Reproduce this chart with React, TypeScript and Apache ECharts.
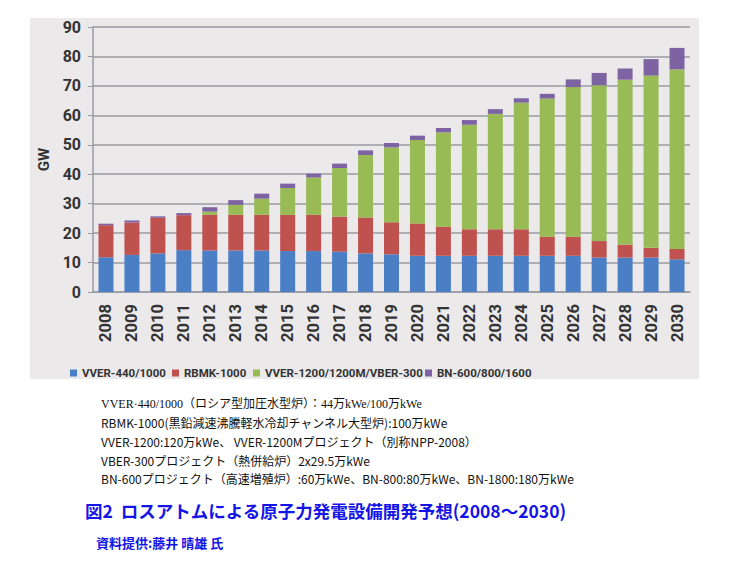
import React, { useEffect, useRef } from "react";
import * as echarts from "echarts";

const years = ["2008","2009","2010","2011","2012","2013","2014","2015","2016","2017","2018","2019","2020","2021","2022","2023","2024","2025","2026","2027","2028","2029","2030"];
const vver440 = [11.8,12.6,13.1,14.2,14.1,14.1,14.1,13.9,13.9,13.7,13.1,12.8,12.3,12.3,12.3,12.3,12.3,12.3,12.3,11.7,11.7,11.7,11.1];
const rbmk = [10.9,11.0,12.1,11.9,12.1,12.1,12.1,12.3,12.3,11.9,12.2,10.9,11.0,9.9,9.0,9.0,9.0,6.5,6.5,5.6,4.4,3.3,3.5];
const vver1200 = [0,0,0,0,1.1,3.4,5.5,9.1,12.7,16.5,21.2,25.4,28.3,32.0,35.5,39.2,43.0,46.9,50.8,52.9,56.0,58.5,61.0];
const bn = [0.5,0.7,0.5,0.7,1.5,1.6,1.7,1.5,1.3,1.5,1.6,1.5,1.5,1.5,1.6,1.6,1.5,1.6,2.6,4.2,3.8,5.6,7.3];
const seriesNames = ["VVER-440/1000","RBMK-1000","VVER-1200/1200M/VBER-300","BN-600/800/1600"];
const noteLines = [
  "VVER·440/1000（ロシア型加圧水型炉）：44万kWe/100万kWe",
  "RBMK-1000(黒鉛減速沸騰軽水冷却チャンネル大型炉):100万kWe",
  "VVER-1200:120万kWe、 VVER-1200Mプロジェクト（別称NPP-2008）",
  "VBER-300プロジェクト（熱併給炉）2x29.5万kWe",
  "BN-600プロジェクト（高速増殖炉）:60万kWe、BN-800:80万kWe、BN-1800:180万kWe",
];
const titleText = "図2  ロスアトムによる原子力発電設備開発予想(2008～2030)";
const creditText = "資料提供:藤井 晴雄 氏";

const colors = ["#4a7fc6", "#bf524f", "#98bb55", "#7e63a3"];

export default function App() {
  const ref = useRef<HTMLDivElement>(null);
  useEffect(() => {
    if (!ref.current) return;
    const chart = echarts.init(ref.current, undefined, { renderer: "svg" });
    const data = [vver440, rbmk, vver1200, bn];
    const legendLefts = [65, 167, 248, 420];
    const font = "Roboto, 'Open Sans', sans-serif";
    chart.setOption({
      animation: false,
      backgroundColor: "#ffffff",
      grid: { left: 93, right: 40, top: 27, bottom: 279, containLabel: false },
      legend: seriesNames.map((n, i) => ({
        data: [n],
        left: legendLefts[i],
        top: 362,
        itemWidth: 7,
        itemHeight: 7,
        itemGap: 4,
        icon: "rect",
        textStyle: { fontFamily: font, fontWeight: "bold", fontSize: 11.5, color: "#333" },
      })),
      xAxis: {
        type: "category",
        data: years,
        axisLine: { lineStyle: { color: "#9a9aa2", width: 1.5 } },
        axisTick: { show: false },
        axisLabel: { rotate: 90, fontFamily: font, fontWeight: "bold", fontSize: 16.5, color: "#333", margin: 12 },
      },
      yAxis: {
        type: "value",
        min: 0,
        max: 90,
        interval: 10,
        name: "GW",
        nameLocation: "middle",
        nameRotate: 90,
        nameGap: 38,
        nameTextStyle: { fontFamily: font, fontWeight: "bold", fontSize: 15, color: "#333" },
        axisLine: { show: true, lineStyle: { color: "#9a9aa2", width: 1.5 } },
        axisTick: { show: true, length: 5, lineStyle: { color: "#9a9aa2" } },
        splitLine: { lineStyle: { color: "#9a9aa2", width: 1.5 } },
        axisLabel: { fontFamily: font, fontWeight: "bold", fontSize: 16, color: "#333", margin: 12 },
      },
      series: seriesNames.map((n, i) => ({
        name: n,
        type: "bar",
        stack: "total",
        barWidth: 15,
        data: data[i],
        itemStyle: { color: colors[i] },
      })),
      graphic: [
        { type: "rect", z: -10, zlevel: 0, silent: true, shape: { x: 30, y: 18, width: 669, height: 361 }, style: { fill: "#ece9ea" } },
        ...noteLines.map((t, i) => ({
          type: "text",
          left: 101,
          top: 398 + i * 18.7,
          style: {
            text: t,
            fontSize: 12,
            fontFamily: i === 0 ? "'Liberation Serif', 'Noto Sans CJK JP', serif" : "'Noto Sans CJK JP', sans-serif",
            fill: "#111",
          },
        })),
        {
          type: "text",
          left: 85,
          top: 502,
          style: { text: titleText, fontSize: 17.5, fontWeight: "bold", fontFamily: "'Noto Sans CJK JP', sans-serif", fill: "#1414e6" },
        },
        {
          type: "text",
          left: 96,
          top: 536,
          style: { text: creditText, fontSize: 13, fontWeight: "bold", fontFamily: "'Noto Sans CJK JP', sans-serif", fill: "#1414e6" },
        },
      ],
    });
    return () => chart.dispose();
  }, []);
  return <div ref={ref} style={{ position: "absolute", left: 0, top: 0, width: 730, height: 571 }} />;
}
